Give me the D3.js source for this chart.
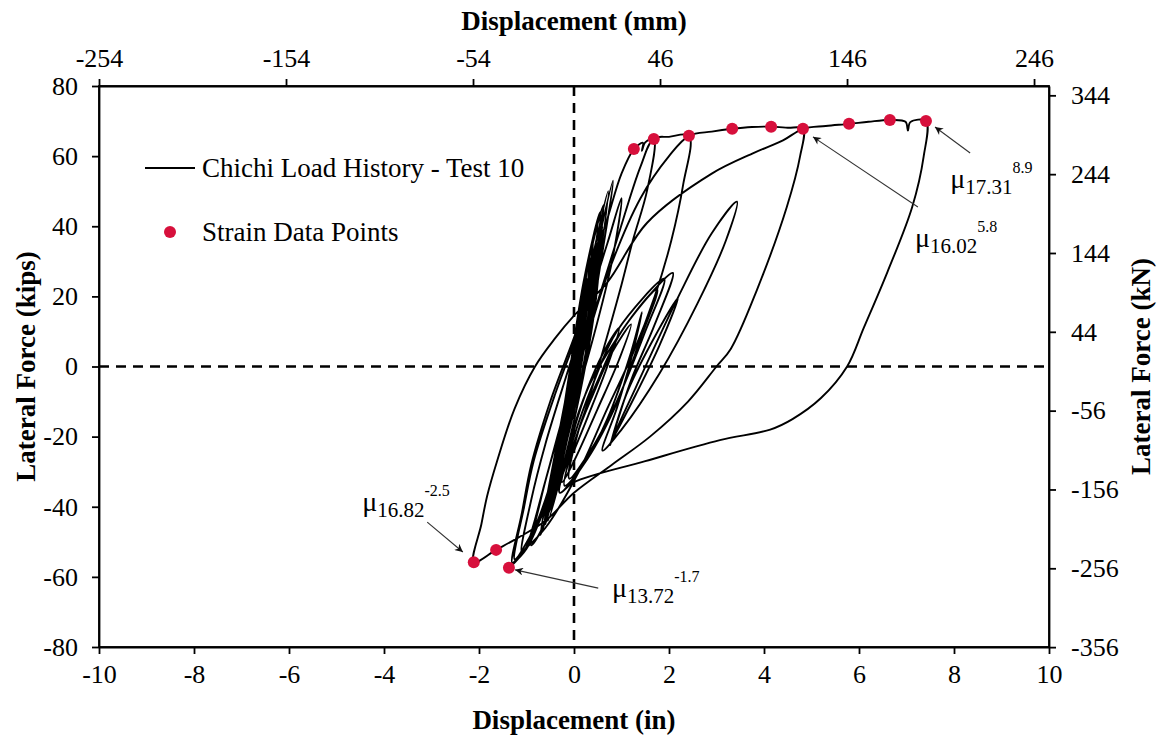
<!DOCTYPE html>
<html>
<head>
<meta charset="utf-8">
<script src="https://cdn.jsdelivr.net/npm/d3@7"></script>
<style>
  html, body { margin: 0; padding: 0; background: #fff; }
  svg { display: block; font-family: "Liberation Serif", "Times New Roman", serif; }
  .axis path, .axis line { stroke: #000; stroke-width: 1.8; }
  .axis text { font-size: 26px; fill: #000; font-family: "Liberation Serif", serif; }
</style>
</head>
<body>
<div id="chart"></div>
<script>
// ---- data (displacement in inches, lateral force in kips) ----
const xTicksIn = [-10, -8, -6, -4, -2, 0, 2, 4, 6, 8, 10];
const xTicksMm = [-254, -154, -54, 46, 146, 246];
const yTicksKips = [-80, -60, -40, -20, 0, 20, 40, 60, 80];
const yTicksKn = [-356, -256, -156, -56, 44, 144, 244, 344];

// Chichi load history - Test 10
const loadHistory = [
  // small elastic cycles
  [0, 0], [0.06, 5], [0.12, 10], [0.05, 3], [-0.05, -5], [-0.1, -9], [-0.03, -2], [0.1, 10], [0.2, 18],
  [0.1, 8], [-0.06, -7], [-0.16, -16], [-0.06, -5], [0.12, 13], [0.27, 25],
  [0.14, 10], [-0.08, -10], [-0.25, -24], [-0.1, -8], [0.12, 15], [0.34, 31],
  [0.18, 12], [-0.06, -9], [-0.32, -30], [-0.14, -10], [0.14, 18], [0.4, 36],
  [0.22, 14], [-0.04, -8], [-0.38, -34], [-0.16, -12], [0.16, 20], [0.5, 41],
  [0.28, 17], [0.02, -6], [-0.45, -38], [-0.2, -14], [0.18, 22], [0.62, 46],
  [0.36, 20], [0.05, -8], [-0.5, -41], [-0.24, -16], [0.2, 24], [0.55, 44],
  [0.35, 18], [0.0, -10], [-0.6, -45], [-0.3, -20], [0.15, 15], [0.72, 50],
  [0.45, 22], [0.08, -8], [-0.7, -48], [-0.4, -25], [0.2, 16], [0.82, 53],
  [0.52, 26], [0.15, -4], [-0.35, -30], [-0.15, -14], [0.1, 4], [0.45, 30], [0.6, 40],
  [0.42, 24], [0.1, 0], [-0.28, -26], [-0.45, -36],
  [-0.25, -20], [0.05, 2], [0.35, 24], [0.48, 35],
  [0.3, 18], [-0.02, -6], [-0.4, -32], [-0.62, -44],
  [-0.35, -22], [0.0, 0], [0.3, 20], [0.52, 36],
  [0.5, 24], [0.12, -8], [-0.55, -44], [-0.28, -18], [0.2, 20], [0.7, 42], [1.0, 55], [1.26, 62],
  [1.45, 63.8], [1.43, 61.5], [1.5, 63.9], [1.68, 64.9],
  // unload from first peaks
  [1.54, 50.3], [1.24, 36], [0.97, 21.8], [0.6, 4], [0.2, -14], [-0.3, -33], [-0.7, -47], [-0.9, -51],
  [-0.7, -38], [-0.45, -25], [-0.1, -8], [0.35, 12], [0.9, 36], [1.4, 57], [1.68, 65],
  [2.0, 65.5], [2.42, 65.8],
  [2.3, 52], [2.05, 36], [1.7, 20], [1.25, 4], [0.7, -12], [0.1, -30], [-0.6, -46], [-1.1, -53], [-1.25, -55],
  [-1.05, -40], [-0.85, -27], [-0.4, -8], [0.2, 14], [0.7, 35], [1.0, 48],
  [0.8, 30], [0.4, 8], [-0.2, -20], [-0.8, -45], [-1.3, -56],
  [-1.1, -42], [-0.9, -28], [-0.5, -10], [0.1, 12], [0.55, 32],
  [0.35, 15], [-0.05, -10], [-0.6, -40], [-1.1, -53],
  [-0.9, -38], [-0.6, -22], [-0.1, 0], [0.4, 22], [0.6, 38],
  [0.4, 20], [0.0, -5], [-0.5, -35], [-1.0, -52], [-1.37, -57.4],
  // reload to 2.42 and along the envelope
  [-1.22, -55.5], [-1.02, -52], [-0.85, -45], [-0.65, -35], [-0.3, -18], [0.15, 2], [0.7, 26], [1.4, 48], [2.0, 60], [2.42, 65.8],
  [2.9, 67], [3.33, 67.8], [3.75, 68.3], [4.15, 68.4], [4.5, 68.1], [4.82, 67.8],
  // unload from 4.82
  [4.76, 60], [4.48, 45.5], [3.85, 21.8], [3.3, 5], [3.0, 0], [2.4, -10], [1.6, -20], [0.8, -28], [0.0, -36], [-0.6, -44], [-1.2, -49], [-1.64, -52.3], [-2.11, -55.8],
  // reload to 4.82 and on to 7.41
  [-1.95, -45], [-1.83, -37], [-1.62, -27], [-1.25, -12], [-0.82, 0], [-0.4, 8], [0, 14.5], [0.69, 23.8], [1.54, 41], [2.9, 55], [3.8, 61], [4.4, 64.5], [4.82, 67.8],
  [5.3, 68.6], [5.79, 69.2], [6.2, 69.8], [6.65, 70.3], [6.98, 69.8], [7.03, 67.3], [7.08, 69.7], [7.41, 70],
  // unload from 7.41
  [7.36, 59.8], [7.12, 45.5], [6.6, 27], [6.1, 11], [5.75, 0], [5.2, -9], [4.6, -15], [4.13, -18], [3.07, -21], [1.5, -27], [0, -33], [-0.3, -36],
  // late, softened cycles
  [-0.1, -22], [0.3, -6], [0.9, 8], [1.5, 19], [2.08, 26.7],
  [1.7, 12], [1.2, -4], [0.76, -22.4],
  [1.1, -8], [1.6, 6], [2.19, 19.6],
  [1.8, 6], [1.3, -8], [0.76, -22],
  [1.3, -6], [2.2, 20], [2.9, 38], [3.43, 47],
  [3.2, 36], [2.6, 18], [1.8, -2], [1.0, -18], [0.6, -24],
  [0.9, -12], [1.2, 2], [1.43, 15.5],
  [1.2, 4], [0.7, -15], [0.2, -28], [-0.3, -36],
  [0.0, -20], [0.4, -5], [0.9, 10], [1.9, 25],
  [1.5, 10], [0.9, -10], [0.3, -25], [-0.1, -32],
  [0.1, -18], [0.5, -4], [1.0, 10], [1.75, 22],
  [1.4, 8], [0.85, -12], [0.2, -28], [-0.2, -34],
  [0.05, -20], [0.4, -8], [0.8, 4], [1.2, 12],
  [0.95, 2], [0.5, -12], [0.0, -27], [-0.25, -33],
  [0.0, -18], [0.35, -4], [0.7, 6], [0.95, 11],
  [0.7, 0], [0.3, -14], [0.0, -24]
];

// strain data points (in, kips)
const strainX = [1.26, 1.68, 2.42, 3.33, 4.15, 4.82, 5.79, 6.65, 7.41, -2.11, -1.64, -1.37];
const strainY = [62.0, 64.9, 65.8, 67.8, 68.4, 67.8, 69.2, 70.3, 70.0, -55.8, -52.3, -57.4];

// ductility annotations: label pieces, text anchor and arrow (tail -> head) in data units
const annoSub = ['16.82', '13.72', '16.02', '17.31'];
const annoSup = ['-2.5', '-1.7', '5.8', '8.9'];
const annoText = [[-4.46, -41.2], [0.8, -65.7], [7.18, 34.1], [7.92, 50.9]];
const annoTail = [[-3.09, -44.4], [0.51, -63.2], [7.24, 45.5], [8.34, 60.9]];
const annoHead = [[-2.34, -52.9], [-1.24, -58.0], [5.03, 65.5], [7.6, 68.3]];

const MM_PER_IN = 25.4;
const KN_PER_KIP = 4.448;

// ---- layout ----
const width = 1159, height = 738;
const margin = { top: 86, right: 110, bottom: 91, left: 99 };
const innerW = width - margin.left - margin.right;
const innerH = height - margin.top - margin.bottom;

const svg = d3.select('#chart').append('svg')
  .attr('width', width)
  .attr('height', height);

svg.append('rect').attr('width', width).attr('height', height).attr('fill', '#fff');

const x = d3.scaleLinear().domain([-10, 10]).range([margin.left, margin.left + innerW]);
const y = d3.scaleLinear().domain([-80, 80]).range([margin.top + innerH, margin.top]);
const xMm = d3.scaleLinear().domain([-10 * MM_PER_IN, 10 * MM_PER_IN]).range(x.range());
const yKn = d3.scaleLinear().domain([-80 * KN_PER_KIP, 80 * KN_PER_KIP]).range(y.range());

const fmt = d => String(d);

// zero lines (dashed)
svg.append('line')
  .attr('x1', x(0)).attr('x2', x(0))
  .attr('y1', y(80)).attr('y2', y(-80))
  .attr('stroke', '#000').attr('stroke-width', 2.6).attr('stroke-dasharray', '10,7');
svg.append('line')
  .attr('x1', x(-10)).attr('x2', x(10))
  .attr('y1', y(0)).attr('y2', y(0))
  .attr('stroke', '#000').attr('stroke-width', 2.6).attr('stroke-dasharray', '10,7');

// hysteresis curve
const line = d3.line()
  .x(d => x(d[0]))
  .y(d => y(d[1]))
  .curve(d3.curveCatmullRom.alpha(0.5));

svg.append('path')
  .datum(loadHistory)
  .attr('d', line)
  .attr('fill', 'none')
  .attr('stroke', '#000')
  .attr('stroke-width', 1.9)
  .attr('stroke-linejoin', 'round');

// strain points
svg.append('g').selectAll('circle')
  .data(strainX.map((v, i) => [v, strainY[i]]))
  .join('circle')
  .attr('cx', d => x(d[0]))
  .attr('cy', d => y(d[1]))
  .attr('r', 6)
  .attr('fill', '#d7103c');

// axes
svg.append('g').attr('class', 'axis')
  .attr('transform', `translate(0,${y(-80)})`)
  .call(d3.axisBottom(x).tickValues(xTicksIn).tickFormat(fmt).tickSize(7).tickSizeOuter(0).tickPadding(11));
svg.append('g').attr('class', 'axis')
  .attr('transform', `translate(0,${y(80)})`)
  .call(d3.axisTop(xMm).tickValues(xTicksMm).tickFormat(fmt).tickSize(7).tickSizeOuter(0).tickPadding(12));
svg.append('g').attr('class', 'axis')
  .attr('transform', `translate(${x(-10)},0)`)
  .call(d3.axisLeft(y).tickValues(yTicksKips).tickFormat(fmt).tickSize(7).tickSizeOuter(0).tickPadding(14));
svg.append('g').attr('class', 'axis')
  .attr('transform', `translate(${x(10)},0)`)
  .call(d3.axisRight(yKn).tickValues(yTicksKn).tickFormat(fmt).tickSize(7).tickSizeOuter(0).tickPadding(15));

// frame
svg.append('rect')
  .attr('x', x(-10)).attr('y', y(80))
  .attr('width', x(10) - x(-10)).attr('height', y(-80) - y(80))
  .attr('fill', 'none').attr('stroke', '#000').attr('stroke-width', 1.8);

// axis titles
const title = (t) => svg.append('text')
  .attr('font-size', 27).attr('font-weight', 'bold')
  .attr('text-anchor', 'middle').text(t);
title('Displacement (mm)').attr('x', x(0)).attr('y', 30);
title('Displacement (in)').attr('x', x(0)).attr('y', 729);
title('Lateral Force (kips)').attr('transform', `translate(35,${y(0)}) rotate(-90)`);
title('Lateral Force (kN)').attr('transform', `translate(1150,${y(0)}) rotate(-90)`);

// legend
const lg = svg.append('g');
lg.append('line').attr('x1', 145).attr('x2', 195).attr('y1', 168).attr('y2', 168)
  .attr('stroke', '#000').attr('stroke-width', 1.9);
lg.append('text').attr('x', 202).attr('y', 177).attr('font-size', 27).text('Chichi Load History - Test 10');
lg.append('circle').attr('cx', 170).attr('cy', 232).attr('r', 6).attr('fill', '#d7103c');
lg.append('text').attr('x', 202).attr('y', 241).attr('font-size', 27).text('Strain Data Points');

// annotations
const defs = svg.append('defs');
defs.append('marker')
  .attr('id', 'arrow')
  .attr('viewBox', '0 0 10 10')
  .attr('refX', 10).attr('refY', 5)
  .attr('markerWidth', 13).attr('markerHeight', 8)
  .attr('markerUnits', 'userSpaceOnUse')
  .attr('orient', 'auto')
  .append('path').attr('d', 'M0,0 L10,5 L0,10 L3,5 Z').attr('fill', '#111');

annoSub.forEach((sub, i) => {
  svg.append('line')
    .attr('x1', x(annoTail[i][0])).attr('y1', y(annoTail[i][1]))
    .attr('x2', x(annoHead[i][0])).attr('y2', y(annoHead[i][1]))
    .attr('stroke', '#333').attr('stroke-width', 1.1)
    .attr('marker-end', 'url(#arrow)');
  const t = svg.append('text')
    .attr('x', x(annoText[i][0])).attr('y', y(annoText[i][1]))
    .attr('font-size', 28);
  t.append('tspan').text('\u03BC');
  t.append('tspan').attr('font-size', 21).attr('dy', 6).text(sub);
  t.append('tspan').attr('font-size', 16).attr('dy', -21).text(annoSup[i]);
});
</script>
</body>
</html>
